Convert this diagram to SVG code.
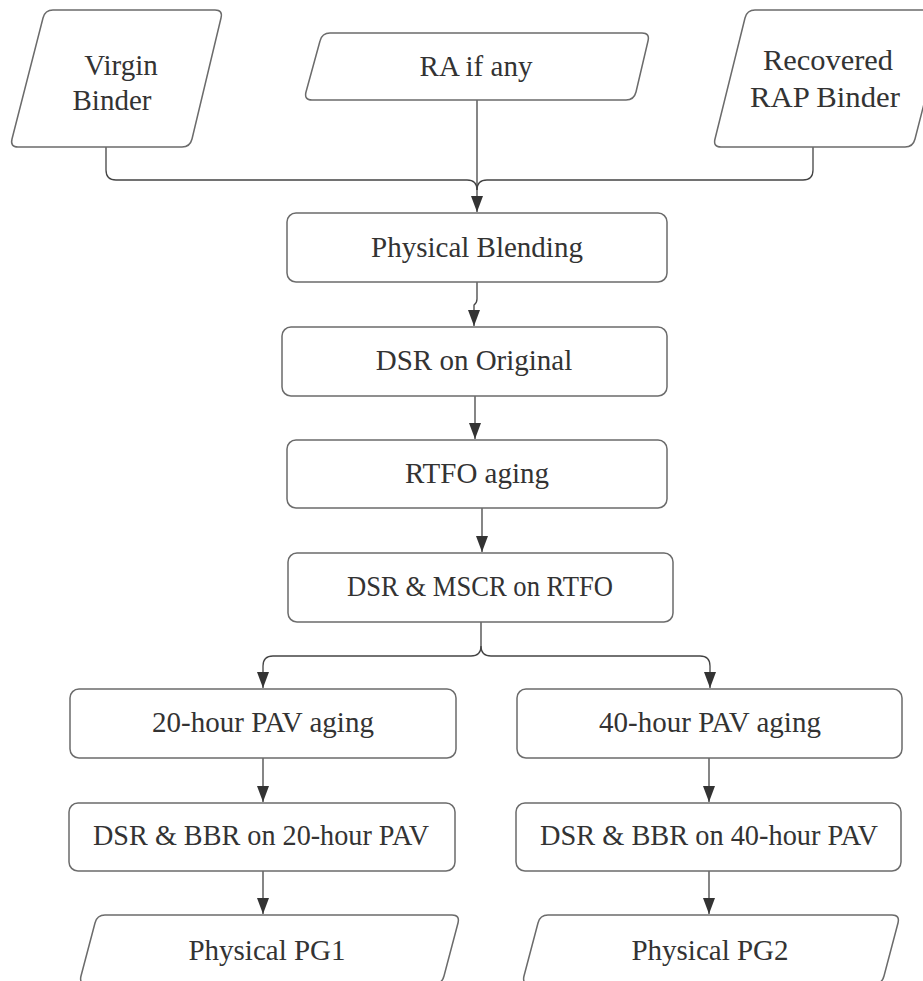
<svg xmlns="http://www.w3.org/2000/svg" width="923" height="981" viewBox="0 0 923 981">
<style>
.box{fill:#fff;stroke:#6b6b6b;stroke-width:1.5}
.lbl{font-family:"Liberation Serif","DejaVu Serif",serif;font-size:29px;fill:#333;text-anchor:middle}
.con{fill:none;stroke:#444;stroke-width:1.3}
</style>
<defs>
<marker id="ah" markerUnits="userSpaceOnUse" markerWidth="17" markerHeight="12" refX="16" refY="6" orient="auto" viewBox="0 0 17 12">
<path d="M0,0 L16,6 L0,12 Z" fill="#333"/>
</marker>
</defs>
<rect width="923" height="981" fill="#fff"/>
<g id="connectors">
<path class="con" d="M106,147 V170 Q106,180 116,180 H467 Q477,180 477,190"/>
<path class="con" d="M813,147 V170 Q813,180 803,180 H487 Q477,180 477,190"/>
<path class="con" d="M477,100 V212" marker-end="url(#ah)"/>
<path class="con" d="M477,282 V299 Q477,303 474,305 V326" marker-end="url(#ah)"/>
<path class="con" d="M475,396 V439" marker-end="url(#ah)"/>
<path class="con" d="M482,508 V552" marker-end="url(#ah)"/>
<path class="con" d="M481,622 V646 Q481,656 471,656 H273 Q263,656 263,666 V688" marker-end="url(#ah)"/>
<path class="con" d="M481,646 Q481,656 491,656 H700 Q710,656 710,666 V688" marker-end="url(#ah)"/>
<path class="con" d="M263,758 V802" marker-end="url(#ah)"/>
<path class="con" d="M709,758 V802" marker-end="url(#ah)"/>
<path class="con" d="M263,871 V914" marker-end="url(#ah)"/>
<path class="con" d="M709,871 V914" marker-end="url(#ah)"/>
</g>
<g id="virgin">
<path class="box" d="M53,10 H215 Q223,10 221,18 L192,139 Q190,147 182,147 H18 Q10,147 12,139 L43,18 Q45,10 53,10 Z"/>
<text class="lbl" x="121" y="75">Virgin</text>
<text class="lbl" x="112" y="110">Binder</text>
</g>
<g id="ra">
<path class="box" d="M330,33 H642 Q650,33 648,41 L636,92 Q634,100 626,100 H312 Q304,100 306,92 L320,41 Q322,33 330,33 Z"/>
<text class="lbl" x="476" y="76">RA if any</text>
</g>
<g id="recovered">
<path class="box" d="M755,10 H940 Q948,10 946,18 L915,139 Q913,147 905,147 H721 Q713,147 715,139 L745,18 Q747,10 755,10 Z"/>
<text class="lbl" x="828" y="70" textLength="130" lengthAdjust="spacingAndGlyphs">Recovered</text>
<text class="lbl" x="825" y="107" textLength="150" lengthAdjust="spacingAndGlyphs">RAP Binder</text>
</g>
<g id="blending">
<rect class="box" x="287" y="213" width="380" height="69" rx="9"/>
<text class="lbl" x="477" y="257">Physical Blending</text>
</g>
<g id="dsr-original">
<rect class="box" x="282" y="327" width="385" height="69" rx="9"/>
<text class="lbl" x="474" y="370">DSR on Original</text>
</g>
<g id="rtfo">
<rect class="box" x="287" y="440" width="380" height="68" rx="9"/>
<text class="lbl" x="477" y="483">RTFO aging</text>
</g>
<g id="dsr-mscr">
<rect class="box" x="288" y="553" width="385" height="69" rx="9"/>
<text class="lbl" x="480" y="596" textLength="266" lengthAdjust="spacingAndGlyphs">DSR &amp; MSCR on RTFO</text>
</g>
<g id="pav20">
<rect class="box" x="70" y="689" width="386" height="69" rx="9"/>
<text class="lbl" x="263" y="732">20-hour PAV aging</text>
</g>
<g id="pav40">
<rect class="box" x="517" y="689" width="385" height="69" rx="9"/>
<text class="lbl" x="710" y="732">40-hour PAV aging</text>
</g>
<g id="bbr20">
<rect class="box" x="69" y="803" width="386" height="68" rx="9"/>
<text class="lbl" x="261" y="845" textLength="336" lengthAdjust="spacingAndGlyphs">DSR &amp; BBR on 20-hour PAV</text>
</g>
<g id="bbr40">
<rect class="box" x="516" y="803" width="385" height="68" rx="9"/>
<text class="lbl" x="709" y="845" textLength="338" lengthAdjust="spacingAndGlyphs">DSR &amp; BBR on 40-hour PAV</text>
</g>
<g id="pg1">
<path class="box" d="M105,915 H452 Q460,915 458,923 L444,976 Q442,984 434,984 H87 Q79,984 81,976 L95,923 Q97,915 105,915 Z"/>
<text class="lbl" x="267" y="960">Physical PG1</text>
</g>
<g id="pg2">
<path class="box" d="M548,915 H892 Q900,915 898,923 L884,976 Q882,984 874,984 H530 Q522,984 524,976 L538,923 Q540,915 548,915 Z"/>
<text class="lbl" x="710" y="960">Physical PG2</text>
</g>
</svg>
